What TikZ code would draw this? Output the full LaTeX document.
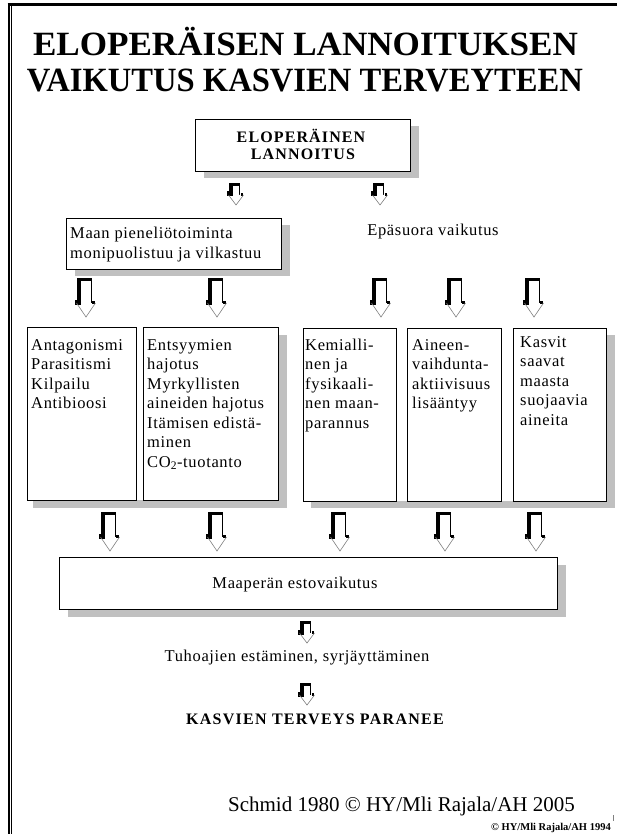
\documentclass[tikz,border=0pt]{standalone}
\usepackage{fontspec}
\setmainfont{Liberation Serif}
\usepackage{graphicx}
\usetikzlibrary{backgrounds}
\definecolor{shadowgray}{HTML}{C0C0C0}
\definecolor{headgray}{HTML}{808080}

\tikzset{
  framebox/.style={draw=black, line width=0.9pt, fill=white, inner sep=0pt, outer sep=0pt, anchor=north west},
  bodytext/.style={font=\fontsize{16.5}{19.5}\selectfont\addfontfeature{LetterSpace=4}, align=left, inner sep=0pt, anchor=north west},
  linetext/.style={font=\fontsize{16.5}{19.5}\selectfont\addfontfeature{LetterSpace=4}, inner sep=0pt, anchor=base},
  headtext/.style={font=\fontsize{16}{17}\selectfont\bfseries\addfontfeature{LetterSpace=7}, inner sep=0pt, anchor=base},
  titletext/.style={font=\fontsize{34}{38}\selectfont\bfseries, inner sep=0pt, anchor=base},
  % hollow block arrow with a dark offset edge: shaft length, head length, head half width, shaft half width
  pics/blockarrow/.style n args={4}{code={
    \fill[black] (-#4-4,0) rectangle (#4+0.8,#1);
    \fill[white] (-#3,#1) -- (#3,#1) -- (0,#1+#2) -- cycle;
    \fill[white] (-#4,2.8) rectangle (#4,#1+0.5);
    \fill[black] (-#3-1.3,#1-3.5) rectangle (-#4,#1+1.5);
    \fill[black] (#4+1.2,#1-2) rectangle (#3-0.8,#1+0.8);
    \draw[headgray, line width=0.6pt] (-#3,#1) -- (0,#1+#2) -- (#3,#1);
  }},
  pics/bigarrow/.style={/tikz/pics/blockarrow={25}{14}{9.5}{5}},
  pics/smallarrow/.style={/tikz/pics/blockarrow={12}{10}{7.5}{3.3}},
}

\begin{document}
\begin{tikzpicture}[x=1pt, y=-1pt]
\useasboundingbox (0,0) rectangle (617,834);

% page frame
\draw[line width=2.5pt] (7.5,4.5) -- (617,4.5);
\draw[line width=2pt] (9,3.5) -- (9,834);
\draw[line width=1pt] (11.8,6) -- (11.8,834);

% heading
\node[titletext] (titleA) at (305.5,56) {\resizebox{545pt}{\height}{ELOPERÄISEN LANNOITUKSEN}};
\node[titletext] (titleB) at (305,92) {\resizebox{556pt}{\height}{VAIKUTUS KASVIEN TERVEYTEEN}};

% source box
\node[framebox, minimum width=215pt, minimum height=52pt] (source) at (195,119) {};
\node[headtext] (sourceA) at (301,143) {ELOPERÄINEN};
\node[headtext] (sourceB) at (303,160) {LANNOITUS};

\pic at (236,183) {smallarrow};
\pic at (380,183) {smallarrow};

% first level
\node[framebox, minimum width=215pt, minimum height=51pt] (microbes) at (66,218) {};
\node[bodytext, font=\fontsize{16.5}{20.5}\selectfont\addfontfeature{LetterSpace=4}] (microbestext) at ([shift={(4,8)}]microbes.north west)
  {\rule{0pt}{12pt}Maan pieneliötoiminta\\monipuolistuu ja vilkastuu};
\node[linetext] (indirect) at (433,236) {Epäsuora vaikutus};

\pic at (86,278) {bigarrow};
\pic at (217,278) {bigarrow};
\pic at (381,278) {bigarrow};
\pic at (456,278) {bigarrow};
\pic at (534,278) {bigarrow};

% mechanism boxes
\node[framebox, minimum width=109pt, minimum height=173pt] (antag) at (27,327) {};
\node[framebox, minimum width=135pt, minimum height=173pt] (enzyme) at (143,327) {};
\node[framebox, minimum width=93pt, minimum height=173pt] (chem) at (303,328) {};
\node[framebox, minimum width=94pt, minimum height=173pt] (metab) at (407,328) {};
\node[framebox, minimum width=93pt, minimum height=173pt] (protect) at (513,328) {};

\node[bodytext] (antagtext) at ([shift={(4,11)}]antag.north west)
  {\rule{0pt}{12pt}Antagonismi\\Parasitismi\\Kilpailu\\Antibioosi};
\node[bodytext] (enzymetext) at ([shift={(4,11)}]enzyme.north west)
  {\rule{0pt}{12pt}Entsyymien\\hajotus\\Myrkyllisten\\aineiden hajotus\\Itämisen edistä-\\minen\\CO\textsubscript{2}-tuotanto};
\node[bodytext] (chemtext) at ([shift={(2,10)}]chem.north west)
  {\rule{0pt}{12pt}Kemialli-\\nen ja\\fysikaali-\\nen maan-\\parannus};
\node[bodytext] (metabtext) at ([shift={(5,10)}]metab.north west)
  {\rule{0pt}{12pt}Aineen-\\vaihdunta-\\aktiivisuus\\lisääntyy};
\node[bodytext] (protecttext) at ([shift={(7,7)}]protect.north west)
  {\rule{0pt}{12pt}Kasvit\\saavat\\maasta\\suojaavia\\aineita};

\pic at (110,512) {bigarrow};
\pic at (217,512) {bigarrow};
\pic at (340,512) {bigarrow};
\pic at (445,512) {bigarrow};
\pic at (536,512) {bigarrow};

% combined effect
\node[framebox, minimum width=498pt, minimum height=52pt] (suppress) at (59,557) {};
\node[linetext] (suppresstext) at (295,588) {Maaperän estovaikutus};

\pic at (307,621) {smallarrow};
\node[linetext] (pests) at (297,661) {Tuhoajien estäminen, syrjäyttäminen};
\pic at (307,683) {smallarrow};
\node[headtext, font=\fontsize{16}{17}\selectfont\bfseries\addfontfeature{LetterSpace=8}] (health) at (315,724) {KASVIEN TERVEYS PARANEE};

% credits
\node[inner sep=0pt, anchor=base, font=\fontsize{21}{24}\selectfont] (credit) at (401.5,811) {Schmid 1980 © HY/Mli Rajala/AH 2005};
\node[inner sep=0pt, anchor=base, font=\fontsize{10.5}{12}\selectfont\bfseries] (creditold) at (551,830) {© HY/Mli Rajala/AH 1994};
\draw[headgray, line width=0.8pt] (613.5,815) -- (613.5,821);

% drop shadows
\begin{scope}[on background layer]
  \fill[shadowgray] ([shift={(9,7)}]source.north west) rectangle ([shift={(9,7)}]source.south east);
  \fill[shadowgray] ([shift={(9,7)}]microbes.north west) rectangle ([shift={(9,7)}]microbes.south east);
  \fill[shadowgray] ([shift={(6,0)}]antag.south west) rectangle ([shift={(9,8)}]enzyme.south east);
  \fill[shadowgray] ([shift={(0,8)}]enzyme.north east) rectangle ([shift={(9,8)}]enzyme.south east);
  \fill[shadowgray] ([shift={(8,0)}]chem.south west) rectangle ([shift={(9,7)}]protect.south east);
  \fill[shadowgray] ([shift={(0,7)}]protect.north east) rectangle ([shift={(9,7)}]protect.south east);
  \fill[shadowgray] ([shift={(9,8)}]suppress.north west) rectangle ([shift={(9,8)}]suppress.south east);
\end{scope}
\end{tikzpicture}
\end{document}
